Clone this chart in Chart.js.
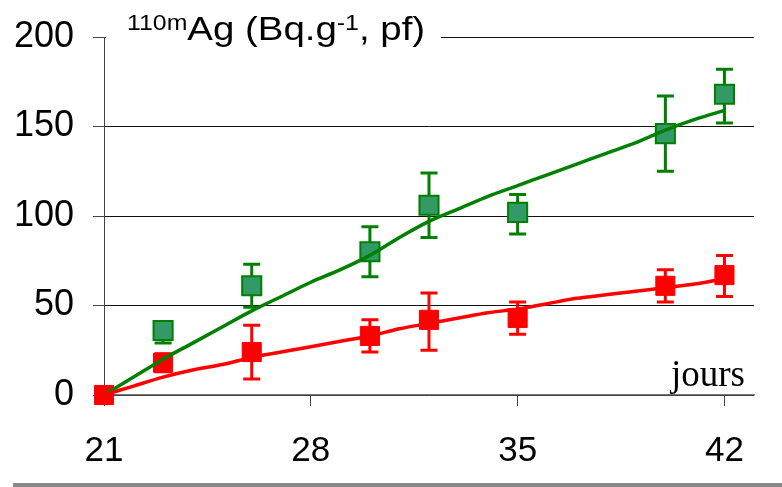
<!DOCTYPE html>
<html>
<head>
<meta charset="utf-8">
<script src="https://cdn.jsdelivr.net/npm/chart.js@4/dist/chart.umd.min.js"></script>
<style>
  html, body { margin: 0; padding: 0; background: #fff; }
  canvas { display: block; }
</style>
</head>
<body>
<canvas id="c" width="782" height="487"></canvas>
<script>
// ---- data ----
const xTicks = [21, 28, 35, 42];
const yTicks = [0, 50, 100, 150, 200];

const greenDays  = [23, 26, 30, 32, 35, 40, 42];
const greenVals  = [36, 61, 80, 106, 102, 146, 168];
const greenUpper = [41, 73, 94, 124, 112, 167, 182];
const greenLower = [29, 49, 66, 88, 90, 125, 152];

const redDays  = [21, 23, 26, 30, 32, 35, 40, 42];
const redVals  = [0, 18, 24, 33, 42, 43, 61, 67];
const redUpper = [0, 23, 39, 42, 57, 52, 70, 78];
const redLower = [0, 13, 9, 24, 25, 34, 52, 55];

const curveDays  = [21,22,23,24,25,26,27,28,29,30,31,32,33,34,35,36,37,38,39,40,41,42];
const greenCurve = [0,10,20,29,38,47,55,63,70,78,88,97,104,111,117,123,129,135,141,148,154,159];
const redCurve   = [0,5,10,14,17,21,24,27,30,33,37,40,43,46,48,51,54,56,58,60,62,65];

const titleMain = 'Ag (Bq.g';
const titleSup = '110m';
const titleExp = '-1';
const titleEnd = ', pf)';
const xUnit = 'jours';

// ---- helpers ----
const pts = (xs, ys) => xs.map((x, i) => ({ x: x, y: ys[i] }));

const errorBars = {
  id: 'errorBars',
  beforeDatasetDraw(chart, args) {
    const ds = chart.data.datasets[args.index];
    if (!ds.errUpper) return;
    const xs = chart.scales.x, ys = chart.scales.y, ctx = chart.ctx;
    ctx.save();
    ctx.strokeStyle = ds.errColor;
    ctx.lineWidth = 3;
    ctx.lineCap = 'butt';
    ds.data.forEach((p, i) => {
      const px = xs.getPixelForValue(p.x);
      const pu = ys.getPixelForValue(ds.errUpper[i]);
      const pl = ys.getPixelForValue(ds.errLower[i]);
      if (Math.abs(pu - pl) < 1) return;
      ctx.beginPath();
      ctx.moveTo(px, pu); ctx.lineTo(px, pl);
      ctx.moveTo(px - 8.5, pu); ctx.lineTo(px + 8.5, pu);
      ctx.moveTo(px - 8.5, pl); ctx.lineTo(px + 8.5, pl);
      ctx.stroke();
    });
    ctx.restore();
  }
};

const decorations = {
  id: 'decorations',
  afterDraw(chart) {
    const ctx = chart.ctx;
    ctx.save();
    // title background hides the top gridline
    ctx.fillStyle = '#fff';
    ctx.fillRect(106, 26, 335, 20);
    ctx.fillStyle = '#000';
    ctx.textBaseline = 'alphabetic';
    ctx.textAlign = 'left';
    ctx.save();
    ctx.translate(127, 0);
    ctx.scale(1.13, 1);
    let x = 0;
    ctx.font = '22px "Liberation Sans", Arial, sans-serif';
    ctx.fillText(titleSup, x, 30);
    x += ctx.measureText(titleSup).width;
    ctx.font = '34px "Liberation Sans", Arial, sans-serif';
    ctx.fillText(titleMain, x, 40);
    x += ctx.measureText(titleMain).width;
    ctx.font = '22px "Liberation Sans", Arial, sans-serif';
    ctx.fillText(titleExp, x, 30);
    x += ctx.measureText(titleExp).width;
    ctx.font = '34px "Liberation Sans", Arial, sans-serif';
    ctx.fillText(titleEnd, x, 40);
    ctx.restore();
    // axis unit
    ctx.font = '37px "Liberation Serif", "Times New Roman", serif';
    ctx.textAlign = 'right';
    ctx.fillText(xUnit, 745, 386);
    // bottom grey rule
    ctx.fillStyle = '#888';
    ctx.fillRect(13, 483, 769, 4);
    ctx.restore();
  }
};

new Chart(document.getElementById('c'), {
  type: 'line',
  data: {
    datasets: [
      { data: pts(curveDays, redCurve), borderColor: '#ff0000', borderWidth: 3.5,
        pointRadius: 0, cubicInterpolationMode: 'monotone', fill: false, clip: false },
      { data: pts(curveDays, greenCurve), borderColor: '#008000', borderWidth: 3.5,
        pointRadius: 0, cubicInterpolationMode: 'monotone', fill: false, clip: false },
      { data: pts(greenDays, greenVals), showLine: false, pointStyle: 'rect',
        pointRadius: 13.5, pointBackgroundColor: '#339966', pointBorderColor: '#008000',
        pointBorderWidth: 2, errUpper: greenUpper, errLower: greenLower, errColor: '#008000', clip: false },
      { data: pts(redDays, redVals), showLine: false, pointStyle: 'rect',
        pointRadius: 13.5, pointBackgroundColor: '#ff0000', pointBorderColor: '#ff0000',
        pointBorderWidth: 1, errUpper: redUpper, errLower: redLower, errColor: '#ff0000', clip: false }
    ]
  },
  options: {
    responsive: false,
    animation: false,
    events: [],
    layout: { padding: { top: 37, right: 28, left: 0, bottom: 0 } },
    plugins: { legend: { display: false }, tooltip: { enabled: false }, title: { display: false } },
    scales: {
      x: {
        type: 'linear', min: 21, max: 43,
        afterBuildTicks: (axis) => { axis.ticks = xTicks.map(v => ({ value: v })); },
        afterFit: (axis) => { axis.height = 92; axis.paddingLeft = 0; axis.paddingRight = 0; },
        grid: { drawOnChartArea: false, drawTicks: true, tickLength: 11, tickColor: '#444', lineWidth: 1 },
        border: { display: true, color: '#777', width: 1.5 },
        ticks: { color: '#000', padding: 24, maxRotation: 0, autoSkip: false,
                 font: { family: '"Liberation Sans", Arial, sans-serif', size: 35 } }
      },
      y: {
        min: 0, max: 200,
        afterBuildTicks: (axis) => { axis.ticks = yTicks.map(v => ({ value: v })); },
        afterFit: (axis) => { axis.width = 104; axis.paddingTop = 0; axis.paddingBottom = 0; },
        grid: { color: '#111', lineWidth: 1, drawTicks: true, tickLength: 11, tickColor: '#444' },
        border: { display: true, color: '#444', width: 1 },
        ticks: { color: '#000', padding: 19,
                 font: { family: '"Liberation Sans", Arial, sans-serif', size: 36 } }
      }
    }
  },
  plugins: [errorBars, decorations]
});
</script>
</body>
</html>
